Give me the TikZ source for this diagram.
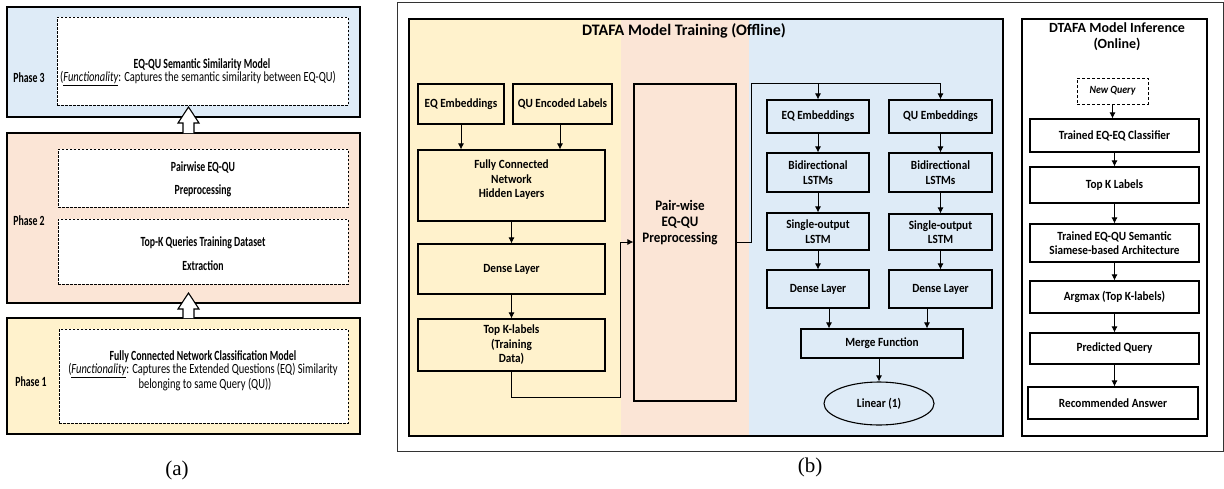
\documentclass[tikz,border=0pt]{standalone}
\usepackage{fontspec}
\setmainfont{Carlito}
\newfontfamily\bfont{Carlito}[FakeStretch=0.9]
\newfontfamily\afont{Carlito}[FakeStretch=0.7]
\newfontfamily\rfont{Carlito}[FakeStretch=0.75]
\newfontfamily\tnr{Liberation Serif}
\usetikzlibrary{arrows.meta,shapes.geometric,calc}
\definecolor{cyel}{HTML}{FFF2CC}
\definecolor{cpea}{HTML}{FBE5D6}
\definecolor{cblu}{HTML}{DEEBF7}
\tikzset{
  box/.style={draw=black, line width=1.1pt, align=center, inner sep=1pt,
    font=\bfont\bfseries\fontsize{12.5}{14.5}\selectfont},
  arr/.style={-{Latex[length=6pt,width=6pt]}, line width=0.9pt},
  dbox/.style={draw=black, dashed, dash pattern=on 2.5pt off 1.5pt, fill=white, line width=0.8pt},
  phasebox/.style={draw=black, line width=2pt},
  atxt/.style={align=center, inner sep=0pt, font=\rfont\fontsize{14}{16}\selectfont},
  btxt/.style={align=center, inner sep=0pt, font=\afont\bfseries\fontsize{14}{16}\selectfont},
  plab/.style={inner sep=0pt, font=\afont\bfseries\fontsize{14}{16}\selectfont},
  blockarr/.style={draw=black, fill=white, line width=1.1pt, line join=miter},
  sub/.style={inner sep=0pt, font=\tnr\fontsize{21}{24}\selectfont},
}
\begin{document}
\begin{tikzpicture}[x=1pt,y=-1pt]
\useasboundingbox (0,0) rectangle (1224,488);
% ---------------- panel (a)
\node[phasebox, fill=cblu, minimum width=353pt, minimum height=110pt] (p3) at (183.5,62) {};
\node[phasebox, fill=cpea, minimum width=353pt, minimum height=170pt] (p2) at (183.5,218) {};
\node[phasebox, fill=cyel, minimum width=353pt, minimum height=116pt] (p1) at (183.5,376) {};
\node[dbox, minimum width=291pt, minimum height=88pt] (d3) at (202.5,61) {};
\node[dbox, minimum width=290pt, minimum height=58pt] (d2a) at (203,178) {};
\node[dbox, minimum width=290pt, minimum height=65pt] (d2b) at (203,251.5) {};
\node[dbox, minimum width=289pt, minimum height=94pt] (d1) at (203.5,376) {};
\node[plab] (l3) at (29,78) {Phase 3};
\node[plab] (l2) at (29,221) {Phase 2};
\node[plab] (l1) at (31,382) {Phase 1};
\node[btxt] (t3a) at (202,65) {EQ-QU Semantic Similarity Model};
\node[atxt] (t3b) at (198,79) {(\underline{\itshape Functionality}: Captures the semantic similarity between EQ-QU)};
\node[btxt] (t2a) at (203,167) {Pairwise EQ-QU};
\node[btxt] (t2b) at (203,191) {Preprocessing};
\node[btxt] (t2c) at (203,243) {Top-K Queries Training Dataset};
\node[btxt] (t2d) at (203,266) {Extraction};
\node[btxt] (t1a) at (203,357) {Fully Connected Network Classification Model};
\node[atxt] (t1b) at (203,371) {(\underline{\itshape Functionality}: Captures the Extended Questions (EQ) Similarity};
\node[atxt] (t1c) at (205,385) {belonging to same Query (QU))};
% block arrows
\draw[blockarr] (183,133) -- (183,123) -- (178,123) -- (188.5,107) -- (199,123) -- (194,123) -- (194,133);
\draw[blockarr] (183,318) -- (183,309) -- (178,309) -- (188.5,293) -- (199,309) -- (194,309) -- (194,318);
\node[sub] (la) at (177,470) {(a)};
% ---------------- panel (b)
\node[draw=black!80, line width=0.8pt, minimum width=826pt, minimum height=449pt] (outer) at (810,226.5) {};
\fill[cyel] (409,19) rectangle (621,436);
\fill[cpea] (621,19) rectangle (749,436);
\fill[cblu] (749,19) rectangle (1003,436);
\node[draw=black, line width=2.2pt, minimum width=594pt, minimum height=417pt] (train) at (706,227.5) {};
\node[draw=black, line width=2.2pt, fill=white, minimum width=185pt, minimum height=417pt] (inf) at (1114.5,227.5) {};
\node[font=\bfseries\fontsize{16}{19}\selectfont, inner sep=0pt] (ttl) at (684,31) {DTAFA Model Training (Offline)};
\node[font=\bfseries\fontsize{14}{16.5}\selectfont, inner sep=0pt, align=center] (itl) at (1117,36.5) {DTAFA Model Inference\\(Online)};
% left column
\node[box, minimum width=86pt, minimum height=40pt] (eqe1) at (461,104) {EQ Embeddings};
\node[box, minimum width=99pt, minimum height=40pt] (que1) at (562.5,104) {QU Encoded Labels};
\node[box, minimum width=187pt, minimum height=71pt] (fc) at (511.5,185.5) {};
\node[box, draw=none] (fct) at (511.5,180) {Fully Connected\\Network\\Hidden Layers};
\node[box, minimum width=187pt, minimum height=50pt] (den1) at (511.5,269) {Dense Layer};
\node[box, minimum width=187pt, minimum height=52pt] (topk) at (511.5,345) {Top K-labels\\(Training\\Data)};
\node[box, minimum width=102pt, minimum height=317pt] (pw) at (685,242.5) {};
\node[box, draw=none, font=\bfont\bfseries\fontsize{14.5}{16}\selectfont] (pwt) at (680,223) {Pair-wise\\EQ-QU\\Preprocessing};
\draw[arr] (eqe1.south) -- (eqe1.south |- fc.north);
\coordinate (qa) at (560,124);
\draw[arr] (qa) -- (qa |- fc.north);
\draw[arr] (fc.south) -- (den1.north);
\draw[arr] (den1.south) -- (topk.north);
\coordinate (c1) at (620,242);
\draw[arr] (topk.south) -- ++(0,26) -| (c1) -- (c1 -| pw.west);
% right column
\node[box, minimum width=102pt, minimum height=33pt] (eqe2) at (818,116.5) {EQ Embeddings};
\node[box, minimum width=103pt, minimum height=33pt] (que2) at (940.5,116.5) {QU Embeddings};
\node[box, minimum width=102pt, minimum height=39pt] (bi1) at (818,172.5) {Bidirectional\\LSTMs};
\node[box, minimum width=103pt, minimum height=39pt] (bi2) at (940.5,172.5) {Bidirectional\\LSTMs};
\node[box, minimum width=102pt, minimum height=37pt] (so1) at (818,231.5) {Single-output\\LSTM};
\node[box, minimum width=103pt, minimum height=36pt] (so2) at (940.5,232) {Single-output\\LSTM};
\node[box, minimum width=102pt, minimum height=38pt] (de1) at (818,289) {Dense Layer};
\node[box, minimum width=103pt, minimum height=38pt] (de2) at (940.5,289) {Dense Layer};
\node[box, minimum width=162pt, minimum height=29pt] (mg) at (882,343.5) {Merge Function};
\node[box, ellipse, minimum width=110pt, minimum height=43pt, inner sep=0pt] (lin) at (879,403.5) {Linear (1)};
\coordinate (c2) at (751,242);
\coordinate (c3) at (751,83);
\draw[arr] (c2 -| pw.east) -- (c2) -- (c3) -| (que2.north);
\coordinate (c4) at (eqe2.north |- c3);
\draw[arr] (c4) -- (eqe2.north);
\draw[arr] (eqe2.south) -- (bi1.north);
\draw[arr] (que2.south) -- (bi2.north);
\draw[arr] (bi1.south) -- (so1.north);
\draw[arr] (bi2.south) -- (so2.north);
\draw[arr] (so1.south) -- (de1.north);
\draw[arr] (so2.south) -- (de2.north);
\coordinate (m1) at ([xshift=11pt]de1.south);
\coordinate (m2) at ([xshift=-13.5pt]de2.south);
\draw[arr] (m1) -- (m1 |- mg.north);
\draw[arr] (m2) -- (m2 |- mg.north);
\draw[arr] (mg.south -| lin.north) -- (lin.north);
% inference column
\node[box, dashed, dash pattern=on 3pt off 2pt, line width=0.9pt, minimum width=71pt, minimum height=26pt, font=\bfont\bfseries\itshape\fontsize{11}{13}\selectfont] (nq) at (1112.5,91) {New Query};
\node[box, minimum width=169pt, minimum height=33pt] (tc) at (1114.5,135.5) {Trained EQ-EQ Classifier};
\node[box, minimum width=169pt, minimum height=36pt] (tk) at (1114.5,185) {Top K Labels};
\node[box, minimum width=169pt, minimum height=38pt] (ts) at (1114.5,243) {Trained EQ-QU Semantic\\Siamese-based Architecture};
\node[box, minimum width=169pt, minimum height=32pt] (am) at (1114.5,297) {Argmax (Top K-labels)};
\node[box, minimum width=169pt, minimum height=31pt] (pq) at (1114.5,348.5) {Predicted Query};
\node[box, minimum width=170pt, minimum height=32pt] (ra) at (1113,403) {Recommended Answer};
\draw[arr] (nq.south) -- (nq.south |- tc.north);
\draw[arr] (tc.south) -- (tk.north);
\draw[arr] (tk.south) -- (ts.north);
\draw[arr] (ts.south) -- (am.north);
\draw[arr] (am.south) -- (pq.north);
\draw[arr] (pq.south) -- (pq.south |- ra.north);
\node[sub] (lb) at (810,467) {(b)};
\end{tikzpicture}
\end{document}
